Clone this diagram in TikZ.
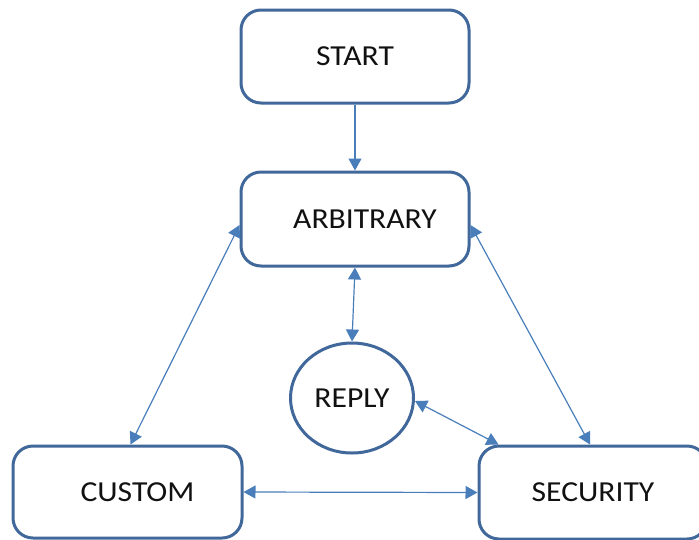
\documentclass[tikz,border=0pt]{standalone}
\usepackage{fontspec}
\setmainfont{Carlito}
\newfontfamily\labelfont[FakeStretch=1.09]{Carlito}
\usetikzlibrary{arrows.meta,shapes.geometric,calc}
\definecolor{boxline}{HTML}{41689A}
\definecolor{linkline}{HTML}{4A7EBB}
\definecolor{labeltext}{HTML}{111111}
\begin{document}
\begin{tikzpicture}[x=1pt,y=-1pt,
  stage/.style={draw=boxline,line width=3pt,rounded corners=20pt,fill=white,
    minimum width=228pt,minimum height=93pt,inner sep=0pt,
    font=\labelfont\fontsize{29}{34}\selectfont,text=labeltext},
  replynode/.style={draw=boxline,line width=3pt,ellipse,fill=white,
    minimum width=123pt,minimum height=110pt,inner sep=0pt,
    font=\labelfont\fontsize{29}{34}\selectfont,text=labeltext},
  link/.style={draw=linkline,line width=1.2pt,
    -{Triangle[width=13pt,length=12pt]}},
  both/.style={link,{Triangle[width=13pt,length=12pt]}-{Triangle[width=13pt,length=12pt]}}]
  \clip (0,0) rectangle (699,539);
  \fill[white] (0,0) rectangle (699,539);

  \node[stage] (start) at (355,56.5) {START};
  \node[stage,minimum height=94pt] (arb) at (355,219) {\hspace*{20pt}ARBITRARY};
  \node[replynode] (reply) at (352,398) {REPLY};
  \node[stage,minimum width=229pt,minimum height=92pt] (custom) at (127.5,492)
       {\hspace*{20pt}CUSTOM};
  \node[stage] (sec) at (593,492.5) {SECURITY};

  \draw[link] (start.south) -- (arb.north);
  \draw[both] (arb.south) -- (reply.north);
  \draw[both] ($(arb.west)+(0,6)$) -- ($(custom.north)+(3,0)$);
  \draw[both] ($(arb.east)+(0,6)$) -- ($(sec.north)+(-3,0)$);
  \draw[both] ($(reply.east)+(0,3)$) -- ($(sec.north west)+(21,0)$);
  \draw[both] (custom.east) -- (sec.west);
\end{tikzpicture}
\end{document}
